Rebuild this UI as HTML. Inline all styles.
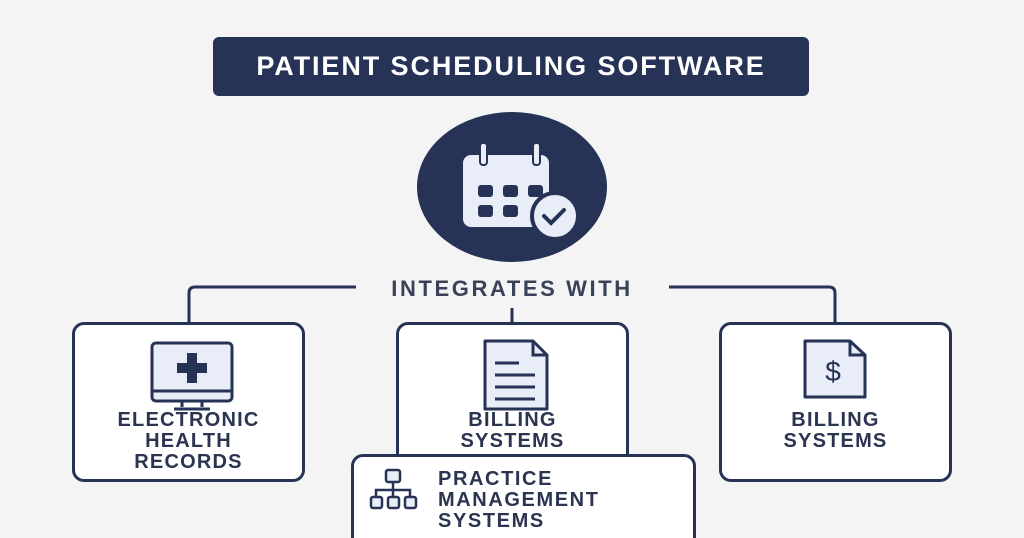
<!DOCTYPE html>
<html style="overflow:hidden;height:538px"><head><style>
body{margin:0;width:1024px;height:538px;background:#f4f4f5;overflow:hidden;position:relative;font-family:"Liberation Sans",sans-serif;color:#2b3450}
.t{position:absolute;left:213px;top:37px;width:596px;height:59px;background:#263256;border-radius:6px;color:#fff;font-weight:bold;font-size:27px;line-height:59px;text-align:center;letter-spacing:1.9px}
.box{position:absolute;background:#fff;border:3px solid #263256;border-radius:12px;box-sizing:border-box}
.lbl{position:absolute;width:100%;text-align:center;font-weight:bold;font-size:20px;line-height:21px;letter-spacing:1.2px}
</style></head><body>
<div class="t">PATIENT SCHEDULING SOFTWARE</div>
<svg width="1024" height="538" style="position:absolute;left:0;top:0">
<ellipse cx="512" cy="187" rx="95" ry="75" fill="#263256"/>
<rect x="463" y="155" width="86" height="72" rx="8" fill="#e9edf7"/>
<rect x="480" y="143" width="7" height="22" rx="3" fill="#e9edf7" stroke="#263256" stroke-width="2"/>
<rect x="533" y="143" width="7" height="22" rx="3" fill="#e9edf7" stroke="#263256" stroke-width="2"/>
<g fill="#263256"><rect x="478" y="185" width="15" height="12" rx="3"/><rect x="503" y="185" width="15" height="12" rx="3"/><rect x="528" y="185" width="15" height="12" rx="3"/><rect x="478" y="205" width="15" height="12" rx="3"/><rect x="503" y="205" width="15" height="12" rx="3"/></g>
<circle cx="555" cy="216" r="23" fill="#e9edf7" stroke="#263256" stroke-width="4"/>
<path d="M544 216l7 7 13-13" fill="none" stroke="#263256" stroke-width="4" stroke-linecap="round"/>
<g fill="none" stroke="#263256" stroke-width="3">
<path d="M189 322V293q0-6 6-6H356"/>
<path d="M669 287H829q6 0 6 6V322"/>
<path d="M512 308V322"/>
</g>
<text x="512" y="296" text-anchor="middle" font-family="Liberation Sans" font-weight="bold" font-size="22" fill="#3a4258" letter-spacing="2.6">INTEGRATES WITH</text>
</svg>
<div class="box" style="left:72px;top:322px;width:233px;height:160px">
<svg width="90" height="72" style="position:absolute;left:73px;top:14px">
<rect x="4" y="4" width="80" height="58" rx="4" fill="#e9edf7" stroke="#263256" stroke-width="3"/>
<line x1="4" y1="52" x2="84" y2="52" stroke="#263256" stroke-width="3"/>
<path d="M34 62v6M54 62v6M26 70h36" stroke="#263256" stroke-width="3"/>
<path d="M39 14h10v10h10v10h-10v10h-10v-10h-10v-10h10z" fill="#263256"/>
</svg>
<div class="lbl" style="top:85px">ELECTRONIC<br>HEALTH<br>RECORDS</div>
</div>
<div class="box" style="left:396px;top:322px;width:233px;height:150px">
<svg width="72" height="80" style="position:absolute;left:80px;top:12px">
<path d="M6 4h48l14 14v54h-62z" fill="#e9edf7" stroke="#263256" stroke-width="3" stroke-linejoin="round"/>
<path d="M54 4v14h14" fill="none" stroke="#263256" stroke-width="3"/>
<path d="M16 26h24M16 38h40M16 50h40M16 62h40" stroke="#263256" stroke-width="3"/>
</svg>
<div class="lbl" style="top:85px">BILLING<br>SYSTEMS</div>
</div>
<div class="box" style="left:719px;top:322px;width:233px;height:160px">
<svg width="72" height="62" style="position:absolute;left:78px;top:14px">
<path d="M5 2h45l15 14v42h-60z" fill="#e9edf7" stroke="#263256" stroke-width="3" stroke-linejoin="round"/>
<path d="M50 2v14h15" fill="none" stroke="#263256" stroke-width="3"/>
<text x="33" y="42" text-anchor="middle" font-family="Liberation Sans" font-size="28" fill="#263256">$</text>
</svg>
<div class="lbl" style="top:85px">BILLING<br>SYSTEMS</div>
</div>
<div class="box" style="left:351px;top:454px;width:345px;height:100px">
<svg width="50" height="45" style="position:absolute;left:14px;top:10px">
<g fill="#e9edf7" stroke="#263256" stroke-width="2.5">
<rect x="18" y="3" width="14" height="12" rx="2"/>
<rect x="3" y="30" width="11" height="11" rx="2"/><rect x="20" y="30" width="11" height="11" rx="2"/><rect x="37" y="30" width="11" height="11" rx="2"/>
</g>
<path d="M25 15v8M8 30v-7h34v7M25 23v7" fill="none" stroke="#263256" stroke-width="2.5"/>
</svg>
<div class="lbl" style="top:12px;left:84px;width:auto;text-align:left;letter-spacing:1.6px">PRACTICE<br>MANAGEMENT<br>SYSTEMS</div>
</div>
</body></html>
